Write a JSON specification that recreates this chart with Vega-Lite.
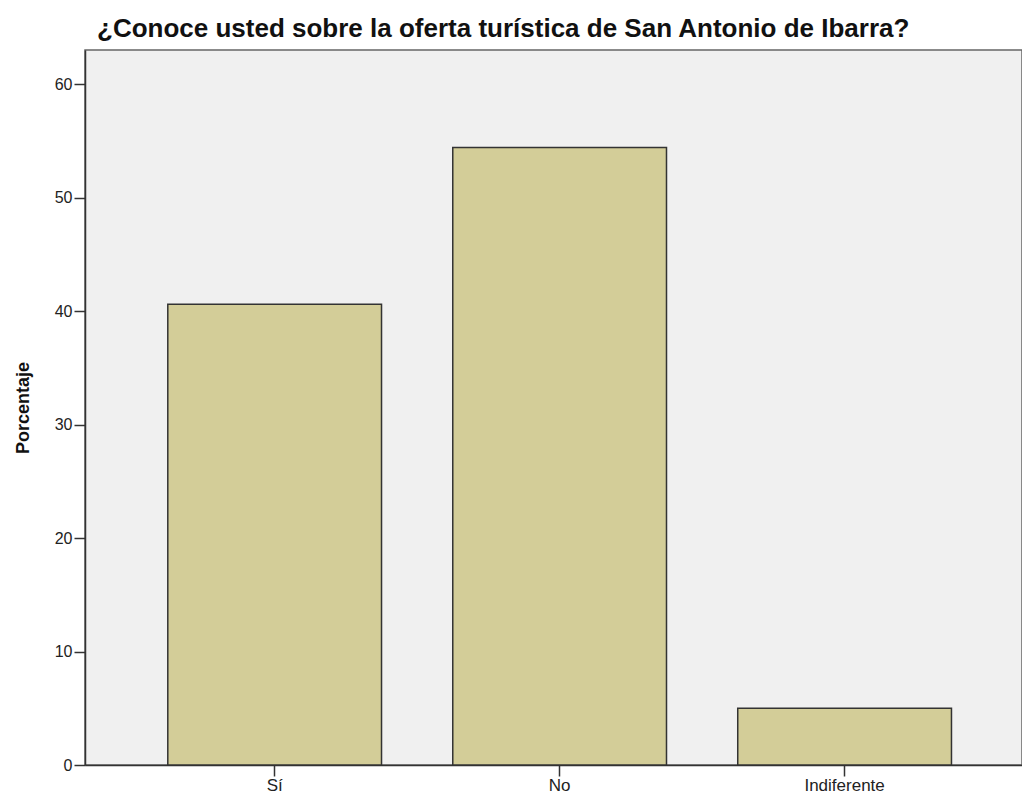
{
  "$schema": "https://vega.github.io/schema/vega-lite/v6.json",
  "width": 937,
  "height": 715,
  "autosize": {"type": "none"},
  "padding": {"left": 85, "top": 50, "right": 0, "bottom": 31},
  "background": "white",
  "title": {
    "text": "¿Conoce usted sobre la oferta turística de San Antonio de Ibarra?",
    "anchor": "start",
    "frame": "group",
    "font": "Liberation Sans",
    "fontSize": 26,
    "fontWeight": "bold",
    "color": "#111",
    "dx": 12,
    "offset": 8
  },
  "data": {
    "values": [
      {"respuesta": "Sí", "porcentaje": 40.6},
      {"respuesta": "No", "porcentaje": 54.4},
      {"respuesta": "Indiferente", "porcentaje": 5.0}
    ]
  },
  "mark": {"type": "bar", "fill": "#d3cd98", "stroke": "#333333", "strokeWidth": 1.5},
  "encoding": {
    "x": {
      "field": "respuesta",
      "type": "nominal",
      "sort": null,
      "scale": {"paddingInner": 0.25, "paddingOuter": 0.269, "align": 0.54},
      "axis": {
        "title": null,
        "labelAngle": 0,
        "labelFont": "Liberation Sans",
        "labelFontSize": 17,
        "labelColor": "#222",
        "tickSize": 11,
        "tickColor": "#333",
        "tickWidth": 1.5,
        "domainColor": "#333",
        "domainWidth": 1.5,
        "labelPadding": 1
      }
    },
    "y": {
      "field": "porcentaje",
      "type": "quantitative",
      "scale": {"domain": [0, 63], "nice": false},
      "axis": {
        "title": "Porcentaje",
        "titleFont": "Liberation Sans",
        "titleFontSize": 18,
        "titleFontWeight": "bold",
        "titleColor": "#111",
        "titlePadding": 22,
        "values": [0, 10, 20, 30, 40, 50, 60],
        "grid": false,
        "labelFont": "Liberation Sans",
        "labelFontSize": 16,
        "labelColor": "#222",
        "tickSize": 11,
        "tickColor": "#333",
        "tickWidth": 1.5,
        "domainColor": "#333",
        "domainWidth": 1.5,
        "labelPadding": 2
      }
    }
  },
  "config": {
    "view": {"fill": "#f0f0f0", "stroke": "#666666", "strokeWidth": 1.5}
  }
}
